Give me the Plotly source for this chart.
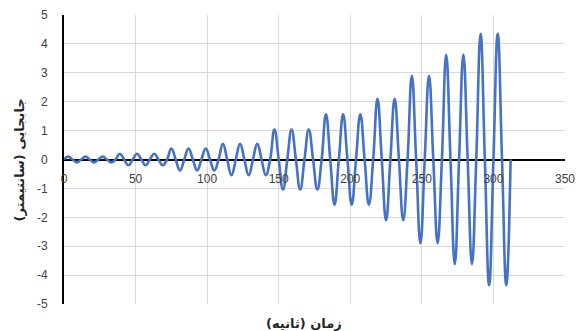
import plotly.graph_objects as go

# One amplitude (cm) per 12-second loading cycle
cycle_period_s = 12
cycle_amplitudes_cm = [0.10, 0.10, 0.10,
                       0.20, 0.20, 0.20,
                       0.38, 0.38, 0.38,
                       0.54, 0.54, 0.54,
                       1.04, 1.04, 1.04,
                       1.56, 1.56, 1.56,
                       2.10, 2.10,
                       2.90, 2.90,
                       3.62, 3.62,
                       4.35, 4.35]

x_ticks = [0, 50, 100, 150, 200, 250, 300, 350]
y_ticks = [-5, -4, -3, -2, -1, 0, 1, 2, 3, 4, 5]
x_title = "زمان (ثانیه)"
y_title = "جابجایی (سانتیمتر)"

# Key points of each cycle: start, crest, middle crossing, trough
time_s = []
disp_cm = []
for k, a in enumerate(cycle_amplitudes_cm):
    t0 = k * cycle_period_s
    q = cycle_period_s / 4
    time_s += [t0, t0 + q, t0 + 2 * q, t0 + 3 * q]
    disp_cm += [0, a, 0, -a]
time_s.append(len(cycle_amplitudes_cm) * cycle_period_s)
disp_cm.append(0)

fig = go.Figure()
fig.add_trace(go.Scatter(
    x=time_s, y=disp_cm, mode="lines",
    line=dict(color="#4472C4", width=2.6, shape="spline", smoothing=1.3),
    hoverinfo="skip", showlegend=False,
))

tick_font = dict(family="Liberation Sans, Arial, sans-serif", size=12, color="#404040")
title_font = dict(family="DejaVu Sans, sans-serif", size=13, color="#262626")

fig.update_layout(
    width=579, height=331,
    margin=dict(l=64, r=14, t=15, b=27, autoexpand=False),
    paper_bgcolor="white", plot_bgcolor="white",
    showlegend=False,
    xaxis=dict(
        range=[0, 350], tickvals=x_ticks, ticktext=[str(v) for v in x_ticks],
        showgrid=True, gridcolor="#D9D9D9", gridwidth=1,
        zeroline=False, showline=False,
        anchor="free", position=0.5, automargin=False,
        ticks="", ticklabelstandoff=10,
        tickfont=tick_font, fixedrange=True,
    ),
    yaxis=dict(
        range=[-5, 5], tickvals=y_ticks, ticktext=[str(v) for v in y_ticks],
        showgrid=True, gridcolor="#D9D9D9", gridwidth=1,
        zeroline=True, zerolinecolor="black", zerolinewidth=2,
        showline=True, linecolor="black", linewidth=2, automargin=False,
        ticks="", ticklabelstandoff=12,
        tickfont=tick_font, fixedrange=True,
    ),
    annotations=[
        dict(text="<b>" + x_title + "</b>", xref="paper", yref="paper",
             x=0.479, y=-0.066, showarrow=False, xanchor="center", yanchor="middle",
             font=title_font),
        dict(text="<b>" + y_title + "</b>", xref="paper", yref="paper",
             x=-0.088, y=0.5, textangle=-90, showarrow=False,
             xanchor="center", yanchor="middle",
             font=title_font),
    ],
)

fig.write_html("out.html",
               config={"displayModeBar": False, "staticPlot": True},
               post_script="document.body.style.margin='0';document.body.style.padding='0';")
